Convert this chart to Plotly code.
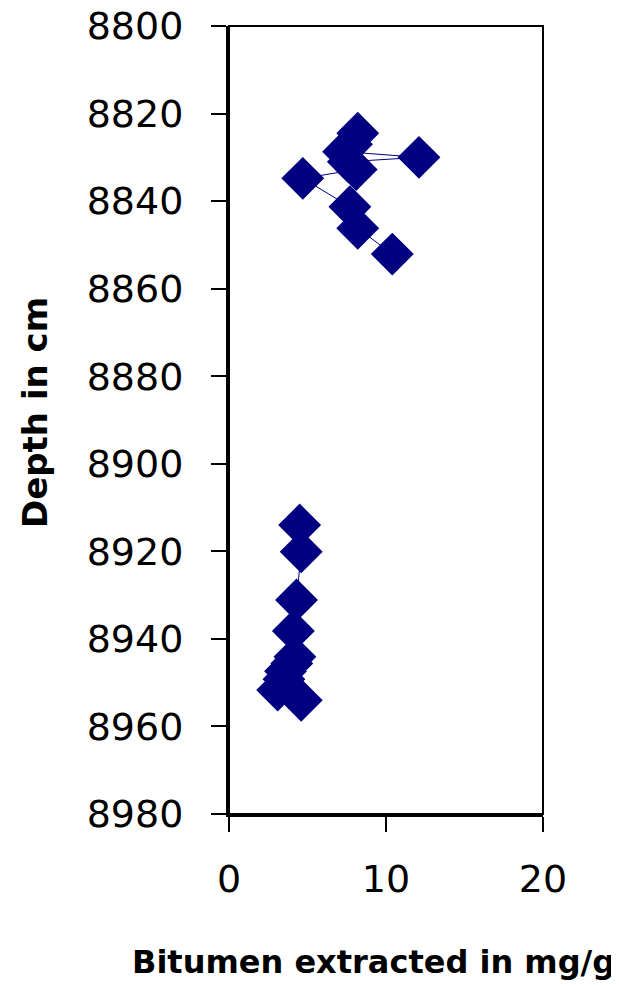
import plotly.graph_objects as go

# Upper interval
depth_upper = [8824.5, 8827.0, 8828.7, 8830.0, 8831.0, 8832.8, 8834.8, 8841.3, 8846.2, 8852.1]
bitumen_upper = [8.2, 7.8, 7.3, 12.1, 7.6, 8.1, 4.7, 7.7, 8.2, 10.4]

# Lower interval
depth_lower = [8914.0, 8920.1, 8931.1, 8938.2, 8944.1, 8945.6, 8947.4, 8949.2, 8951.7, 8954.0]
bitumen_lower = [4.5, 4.6, 4.3, 4.1, 4.2, 4.0, 3.6, 3.5, 3.1, 4.6]

x_ticks = [0, 10, 20]
y_ticks = [8800, 8820, 8840, 8860, 8880, 8900, 8920, 8940, 8960, 8980]

navy = "#000080"
fig = go.Figure()
for xs, ys in [(bitumen_upper, depth_upper), (bitumen_lower, depth_lower)]:
    fig.add_trace(go.Scatter(
        x=xs, y=ys, mode="lines+markers",
        line=dict(color=navy, width=1),
        marker=dict(symbol="diamond", size=33, color=navy, line=dict(width=0)),
        showlegend=False, cliponaxis=False,
    ))

# page body has an 8px default margin; compensate
fig.update_layout(
    width=611, height=977,
    margin=dict(l=221, r=76, t=18, b=171, autoexpand=False),
    paper_bgcolor="white", plot_bgcolor="white",
    font=dict(family="DejaVu Sans", color="black"),
)
fig.update_xaxes(
    range=[0, 20], tickvals=x_ticks, ticktext=[str(v) for v in x_ticks],
    showgrid=False, zeroline=False, automargin=False,
    showline=True, linecolor="black", linewidth=3,
    ticks="outside", ticklen=15, tickwidth=2, tickcolor="black",
    tickfont=dict(size=38, family="DejaVu Sans"),
    ticklabelstandoff=14, ticklabeloverflow="allow",
)
fig.update_yaxes(
    range=[8980, 8800], tickvals=y_ticks, ticktext=[str(v) for v in y_ticks],
    showgrid=False, zeroline=False, automargin=False,
    showline=True, linecolor="black", linewidth=3,
    ticks="outside", ticklen=15, tickwidth=2, tickcolor="black",
    tickfont=dict(size=38, family="DejaVu Sans"),
    ticklabelstandoff=20, ticklabeloverflow="allow",
)
fig.add_shape(type="rect", xref="paper", yref="paper", x0=0, y0=0, x1=1, y1=1,
              line=dict(color="black", width=2), layer="above")

fig.add_annotation(text="<b>Bitumen extracted in mg/g</b>", xref="paper", yref="paper",
                   x=(373 - 229) / 314, y=-(962 - 814) / 788, showarrow=False,
                   xanchor="center", yanchor="middle",
                   font=dict(size=32, family="DejaVu Sans", color="black"))
fig.add_annotation(text="<b>Depth in cm</b>", xref="paper", yref="paper",
                   x=-(229 - 35) / 314, y=(814 - 413) / 788, showarrow=False, textangle=-90,
                   xanchor="center", yanchor="middle",
                   font=dict(size=34, family="DejaVu Sans", color="black"))

fig.write_html("out.html")
